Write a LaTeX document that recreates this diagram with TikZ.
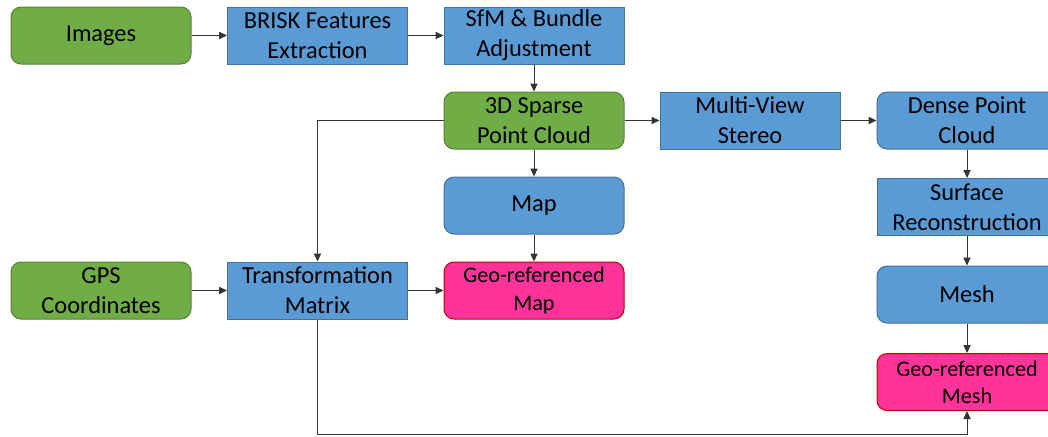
\documentclass[tikz,border=0pt]{standalone}
\usepackage{fontspec}
\setmainfont{Carlito}
\usetikzlibrary{arrows.meta,positioning}

\begin{document}
\begin{tikzpicture}[x=0.5pt,y=-0.5pt,
    box/.style={draw, line width=0.5pt, minimum width=90pt, minimum height=28.5pt,
      inner sep=1pt, align=center, font=\fontsize{12.2}{15}\selectfont},
    greenbox/.style={box, rounded corners=5pt, fill=boxgreen, draw=edgegreen},
    bluebox/.style={box, fill=boxblue, draw=edgeblue},
    roundblue/.style={bluebox, rounded corners=5pt},
    pinkbox/.style={box, rounded corners=5pt, fill=boxpink, draw=edgepink,
      font=\fontsize{11.1}{13.6}\selectfont},
    arr/.style={draw=black!80, line width=0.5pt, -{Triangle[length=4pt,width=3.6pt]}}]
        \definecolor{boxgreen}{HTML}{70AD47}
        \definecolor{edgegreen}{HTML}{548235}
        \definecolor{boxblue}{HTML}{5B9BD5}
        \definecolor{edgeblue}{HTML}{41719C}
        \definecolor{boxpink}{HTML}{FF3399}
        \definecolor{edgepink}{HTML}{C00000}
        \clip (0,0) rectangle (1048,436);

        % top row
        \node[greenbox] (img) at (101,35.5) {Images};
        \node[bluebox] (brisk) at (317.5,35.5) {BRISK Features\\Extraction};
        \node[bluebox] (sfm) at (534,35.5) {SfM \& Bundle\\Adjustment};

        % sparse cloud and dense branch
        \node[greenbox] (sparse) at (534,120.5) {3D Sparse\\Point Cloud};
        \node[bluebox] (mvs) at (750,120.5) {Multi-View\\Stereo};
        \node[roundblue] (dense) at (967,120.5) {Dense Point\\Cloud};
        \node[bluebox] (surf) at (967,207) {Surface\\Reconstruction};
        \node[roundblue] (mesh) at (967,294.5) {Mesh};
        \node[pinkbox] (geomesh) at (967,382) {Geo-referenced\\Mesh};

        % map branch
        \node[roundblue] (map) at (534,205.5) {Map};
        \node[greenbox] (gps) at (101,290.5) {GPS\\Coordinates};
        \node[bluebox] (tmat) at (317.5,290.5) {Transformation\\Matrix};
        \node[pinkbox] (geomap) at (534,290.5) {Geo-referenced\\Map};

        \coordinate (bend) at (967,434);

        \draw[arr] (img) -- (brisk);
        \draw[arr] (brisk) -- (sfm);
        \draw[arr] (sfm) -- (sparse);
        \draw[arr] (sparse) -- (mvs);
        \draw[arr] (mvs) -- (dense);
        \draw[arr] (dense) -- (surf);
        \draw[arr] (surf) -- (mesh);
        \draw[arr] (mesh) -- (geomesh);
        \draw[arr] (sparse) -- (map);
        \draw[arr] (map) -- (geomap);
        \draw[arr] (sparse.west) -| (tmat.north);
        \draw[arr] (gps) -- (tmat);
        \draw[arr] (tmat) -- (geomap);
        \draw[arr] (tmat.south) |- (bend) -- (geomesh.south);
\end{tikzpicture}
\end{document}
